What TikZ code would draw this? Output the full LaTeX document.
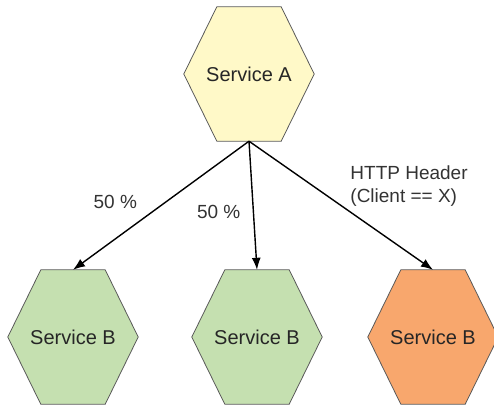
\documentclass[tikz,border=0pt]{standalone}
\usepackage{fontspec}
\setmainfont{Liberation Sans}
\usetikzlibrary{calc,positioning,backgrounds,arrows.meta}

\definecolor{yelfill}{HTML}{FFF9C8}
\definecolor{grnfill}{HTML}{C5E0B0}
\definecolor{orgfill}{HTML}{F8A76D}
\definecolor{hexline}{HTML}{5A5A5A}

\tikzset{
  hexa/.style={minimum width=130pt, minimum height=134pt, inner sep=0pt,
    font=\fontsize{20}{24}\selectfont, text=black!85},
  conn/.style={line width=1.4pt, -{Latex[length=12pt,width=9pt]}},
  lbl/.style={font=\fontsize{19}{23}\selectfont, text=black!80}
}

\begin{document}
\begin{tikzpicture}[x=1pt,y=-1pt]
        \useasboundingbox (0,0) rectangle (494,405);

        \node [hexa] (A) at (249,74) {Service A};

        \node [hexa] (B1) at (73,337) {Service B};
        \node [hexa] (B2) at (257,337) {Service B};
        \node [hexa] (B3) at (433,337) {Service B};

        % hexagon outlines behind the text
        \begin{scope}[on background layer]
        \foreach \n/\c in {A/yelfill,B1/grnfill,B2/grnfill,B3/orgfill}
            \filldraw[fill=\c, draw=hexline, line width=0.8pt]
                ($(\n.north west)+(33pt,0)$) -- ($(\n.north east)+(-33pt,0)$) -- (\n.east)
                -- ($(\n.south east)+(-33pt,0)$) -- ($(\n.south west)+(33pt,0)$) -- (\n.west) -- cycle;
        \end{scope}

        \draw [conn] (A.south) -- node[lbl, pos=0.5, left=20pt, yshift=4pt] {50 \%} (B1.north);
        \draw [conn] (A.south) -- node[lbl, pos=0.55, left=9pt] {50 \%} (B2.north);
        \draw [conn] (A.south) -- node[lbl, pos=0.35, right=33pt, align=left] {HTTP Header\\(Client == X)} (B3.north);

\end{tikzpicture}
\end{document}
